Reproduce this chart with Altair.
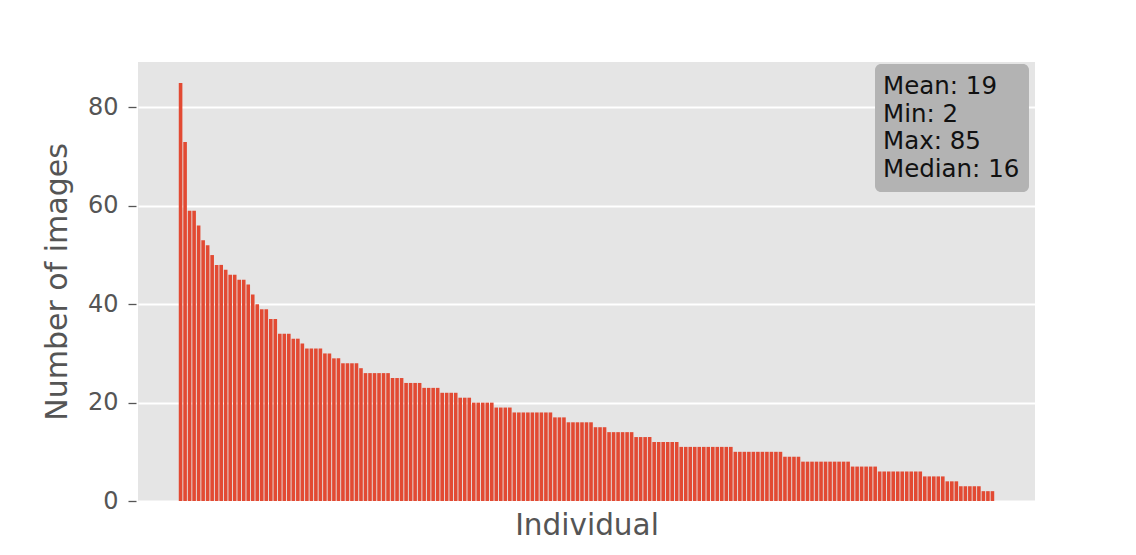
import altair as alt
import pandas as pd

# Number of images per individual (sorted)
counts = [
    85, 73, 59, 59, 56, 53, 52, 50, 48, 48,
    47, 46, 46, 45, 45, 44, 42, 40, 39, 39,
    37, 37, 34, 34, 34, 33, 33, 32, 31, 31,
    31, 31, 30, 30, 29, 29, 28, 28, 28, 28,
    27, 26, 26, 26, 26, 26, 26, 25, 25, 25,
    24, 24, 24, 24, 23, 23, 23, 23, 22, 22,
    22, 22, 21, 21, 21, 20, 20, 20, 20, 20,
    19, 19, 19, 19, 18, 18, 18, 18, 18, 18,
    18, 18, 18, 17, 17, 17, 16, 16, 16, 16,
    16, 16, 15, 15, 15, 14, 14, 14, 14, 14,
    14, 13, 13, 13, 13, 12, 12, 12, 12, 12,
    12, 11, 11, 11, 11, 11, 11, 11, 11, 11,
    11, 11, 11, 10, 10, 10, 10, 10, 10, 10,
    10, 10, 10, 10, 9, 9, 9, 9, 8, 8,
    8, 8, 8, 8, 8, 8, 8, 8, 8, 7,
    7, 7, 7, 7, 7, 6, 6, 6, 6, 6,
    6, 6, 6, 6, 6, 5, 5, 5, 5, 5,
    4, 4, 4, 3, 3, 3, 3, 3, 2, 2,
    2,
]

stat_names = ["Mean", "Min", "Max", "Median"]
stat_values = [19, 2, 85, 16]
y_ticks = [0, 20, 40, 60, 80]

N = len(counts)
df = pd.DataFrame({"individual": list(range(N)), "images": counts})

margin = 0.05 * (N - 0.2)
x_domain = [-0.4 - margin, N - 0.6 + margin]

FONT = "DejaVu Sans"
GRAY = "#555555"

bars = (
    alt.Chart(df)
    .transform_calculate(x0="datum.individual - 0.4", x1="datum.individual + 0.4")
    .mark_bar(color="#E24A33")
    .encode(
        x=alt.X(
            "x0:Q",
            scale=alt.Scale(domain=x_domain, nice=False, zero=False),
            axis=alt.Axis(
                title="Individual",
                ticks=False,
                labels=False,
                domain=False,
                grid=False,
                titlePadding=10,
                titleFontSize=29.5,
                titleColor=GRAY,
                titleFontWeight="normal",
                titleFont=FONT,
            ),
        ),
        x2="x1:Q",
        y=alt.Y(
            "images:Q",
            scale=alt.Scale(domain=[0, 89.25], nice=False),
            axis=alt.Axis(
                title="Number of images",
                values=y_ticks,
                grid=True,
                gridColor="white",
                gridWidth=1.8,
                domain=False,
                tickColor=GRAY,
                tickSize=8,
                tickWidth=1.3,
                offset=2,
                labelPadding=10,
                labelFontSize=24,
                labelColor=GRAY,
                labelFont=FONT,
                titleFontSize=30,
                titleColor=GRAY,
                titleFontWeight="normal",
                titleFont=FONT,
                titlePadding=15,
            ),
        ),
        y2=alt.datum(0),
    )
)

stats_text = "\n".join(f"{n}: {v}" for n, v in zip(stat_names, stat_values))
box_df = pd.DataFrame({"label": [stats_text]})

box = (
    alt.Chart(box_df)
    .mark_rect(fill="#b3b3b3", cornerRadius=6)
    .encode(x=alt.value(737), x2=alt.value(891), y=alt.value(2), y2=alt.value(130))
)

text = (
    alt.Chart(box_df)
    .mark_text(
        align="left",
        baseline="top",
        font=FONT,
        fontSize=24.5,
        lineHeight=27.5,
        lineBreak="\n",
        color="#111111",
    )
    .encode(x=alt.value(745), y=alt.value(13), text="label:N")
)

chart = (
    alt.layer(bars, box, text)
    .properties(
        width=897,
        height=439,
        autosize=alt.AutoSizeParams(type="none"),
        padding={"left": 130, "top": 54, "right": 93, "bottom": 46},
        background="white",
    )
    .configure_view(fill="#E5E5E5", strokeWidth=0)
)

chart.save("out.html", embed_options={"renderer": "svg", "actions": False})
